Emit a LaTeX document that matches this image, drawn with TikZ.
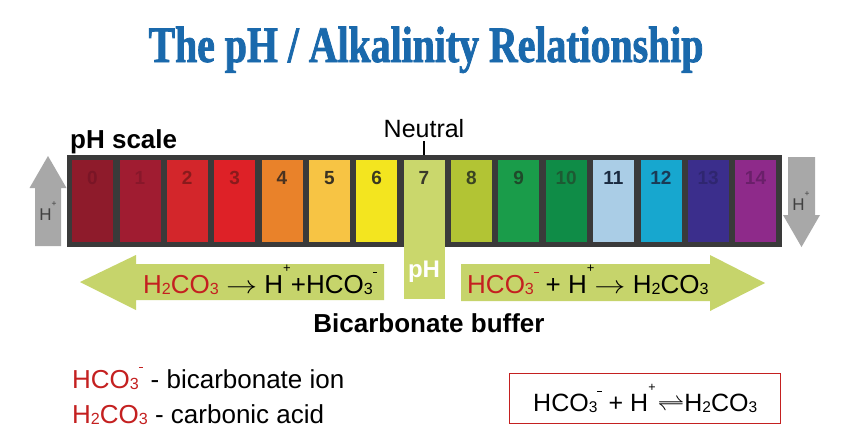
\documentclass[tikz,border=0pt]{standalone}
\usepackage{fontspec}
\setmainfont{Liberation Sans}
\newfontfamily\titlefont[FakeStretch=0.78,FakeBold=1.5]{Liberation Serif}
\definecolor{titleblue}{HTML}{1A69AC}
\definecolor{barbg}{HTML}{3A3A3A}
\definecolor{chemred}{HTML}{C42020}
\definecolor{arrowgreen}{HTML}{C6D46B}
\definecolor{arrowgray}{HTML}{A8A8A8}
\definecolor{c0}{HTML}{8E1B2B}\definecolor{t0}{HTML}{7A1526}
\definecolor{c1}{HTML}{A01C31}\definecolor{t1}{HTML}{88172A}
\definecolor{c2}{HTML}{D3262B}\definecolor{t2}{HTML}{8A1A1C}
\definecolor{c3}{HTML}{DE2127}\definecolor{t3}{HTML}{8A1A1C}
\definecolor{c4}{HTML}{E9822A}\definecolor{t4}{HTML}{4A3220}
\definecolor{c5}{HTML}{F7C444}\definecolor{t5}{HTML}{3A3222}
\definecolor{c6}{HTML}{F3E51F}\definecolor{t6}{HTML}{3A3A20}
\definecolor{c7}{HTML}{CAD76C}\definecolor{t7}{HTML}{3A3A2A}
\definecolor{c8}{HTML}{B2C434}\definecolor{t8}{HTML}{3A4422}
\definecolor{c9}{HTML}{1A9C4A}\definecolor{t9}{HTML}{1F4A2A}
\definecolor{c10}{HTML}{0F8C47}\definecolor{t10}{HTML}{1D5A33}
\definecolor{c11}{HTML}{AACDE6}\definecolor{t11}{HTML}{1A2A40}
\definecolor{c12}{HTML}{17A7CF}\definecolor{t12}{HTML}{1A3A55}
\definecolor{c13}{HTML}{3B2E8C}\definecolor{t13}{HTML}{2F2670}
\definecolor{c14}{HTML}{8E2A8A}\definecolor{t14}{HTML}{6A1F6A}
\newcommand{\sbs}[1]{\raisebox{-0.07em}{\scalebox{0.62}{#1}}}
\newcommand{\sps}[1]{\raisebox{0.78em}{\scalebox{0.5}{#1}}}
\newcommand{\minus}{\rule[0pt]{0.35em}{0.07em}}
\newcommand{\rarr}{\scalebox{1.25}[1]{$\rightarrow$}}
\tikzset{
  cellbox/.style={rectangle, inner sep=0pt, minimum width=41pt, minimum height=82pt, anchor=north west},
  numtxt/.style={font=\fontsize{19}{22}\selectfont\bfseries, inner sep=0pt},
  bigbold/.style={font=\fontsize{26}{30}\selectfont\bfseries, inner sep=0pt},
  chemtxt/.style={font=\fontsize{26}{30}\selectfont, inner sep=0pt},
  htxt/.style={font=\fontsize{17}{20}\selectfont, text=black!75, inner sep=0pt},
}
\begin{document}
\begin{tikzpicture}[x=1pt,y=-1pt]
\useasboundingbox[fill=white] (0,0) rectangle (850,445);
% title
\node[text=titleblue, inner sep=0pt, anchor=base] (title) at (426,62)
  {\fontsize{51}{56}\titlefont\bfseries The pH / Alkalinity Relationship};
% labels above bar
\node[bigbold, anchor=base west] (phscale) at (70,148) {pH scale};
\node[font=\fontsize{25}{28}\selectfont, inner sep=0pt, anchor=base] (neutral) at (424,137) {Neutral};
% bar
\node[rectangle, fill=barbg, inner sep=0pt, minimum width=715pt, minimum height=92pt, anchor=north west] (bar) at (67,155) {};
\draw[line width=1.2pt] ([yshift=-4pt]neutral.south) -- (neutral.south |- bar.north);
% cells
\foreach \i in {0,1,2,3,4,5,6,8,9,10,11,12,13,14}{
  \pgfmathsetmacro\xx{72+47.36*\i}
  \node[cellbox, fill=c\i] (cell\i) at (\xx,160) {};
  \node[numtxt, text=t\i] (num\i) at (\xx+20.5,178) {\i};
}
\node[cellbox, fill=c7, minimum height=139pt] (cell7) at (403.5,160) {};
\node[numtxt, text=t7] (num7) at (424,178) {7};
\node[bigbold, text=white, font=\fontsize{24}{28}\selectfont\bfseries] (phlab) at (424,272) {pH};
% gray arrows
\fill[arrowgray] (35,246) -- (35,188) -- (29.5,188) -- (48,156) -- (66.5,188) -- (61,188) -- (61,246) -- cycle;
\node[htxt] (hup) at (48,211) {H\sps{+}};
\fill[arrowgray] (788,157) -- (815,157) -- (815,215) -- (820,215) -- (801.5,247) -- (783,215) -- (788,215) -- cycle;
\node[htxt] (hdown) at (801,201) {H\sps{+}};
% green arrows
\fill[arrowgreen] (384,264) -- (136,264) -- (136,255) -- (80,282) -- (136,310) -- (136,300) -- (384,300) -- cycle;
\fill[arrowgreen] (461,264) -- (710,264) -- (710,255) -- (765,283) -- (710,311) -- (710,301) -- (461,301) -- cycle;
\node[chemtxt, anchor=base west] (lefteq) at (143,293)
  {\textcolor{chemred}{H\sbs{2}CO\sbs{3}} \rarr{} H\sps{+}+HCO\sbs{3}\sps{\minus}};
\node[chemtxt, anchor=base west] (righteq) at (467,293)
  {\textcolor{chemred}{HCO\sbs{3}\sps{\minus}} + H\sps{+}\rarr{} H\sbs{2}CO\sbs{3}};
\node[bigbold, anchor=base] (buffer) at (429,332) {Bicarbonate buffer};
% legend
\node[chemtxt, anchor=base west] (leg1) at (72,388)
  {\textcolor{chemred}{HCO\sbs{3}\sps{\minus}} - bicarbonate ion};
\node[chemtxt, anchor=base west] (leg2) at (72,423)
  {\textcolor{chemred}{H\sbs{2}CO\sbs{3}} - carbonic acid};
% equilibrium box
\node[rectangle, draw=chemred, line width=1.4pt, minimum width=271pt, minimum height=50pt, anchor=north west] (eqbox) at (509,373) {};
\node[font=\fontsize{25}{28}\selectfont, inner sep=0pt] (eq) at (eqbox.center)
  {HCO\sbs{3}\sps{\minus} + H\sps{+}\hspace{0.08em}\scalebox{1.1}[1]{$\rightleftharpoons$}H\sbs{2}CO\sbs{3}};
\end{tikzpicture}
\end{document}
